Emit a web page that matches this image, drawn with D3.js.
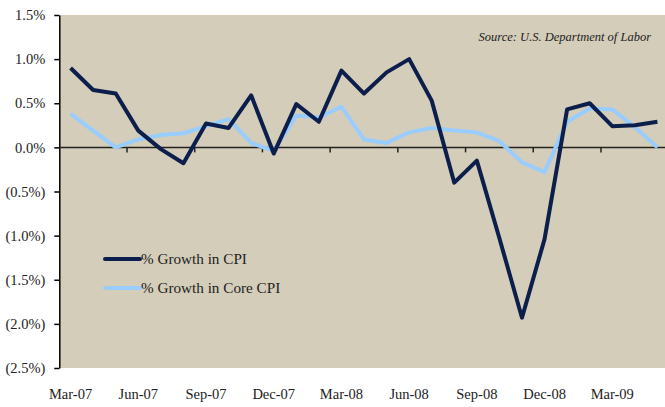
<!DOCTYPE html>
<html>
<head>
<meta charset="utf-8">
<script src="https://cdn.jsdelivr.net/npm/d3@7"></script>
<style>
  body { margin: 0; background: #fff; }
  svg { display: block; font-family: "Liberation Serif", "DejaVu Serif", serif; }
</style>
</head>
<body>
<svg width="665" height="407"></svg>
<script>
// months Mar-07 .. May-09
var months = ["Mar-07","Apr-07","May-07","Jun-07","Jul-07","Aug-07","Sep-07","Oct-07","Nov-07",
              "Dec-07","Jan-08","Feb-08","Mar-08","Apr-08","May-08","Jun-08","Jul-08","Aug-08",
              "Sep-08","Oct-08","Nov-08","Dec-08","Jan-09","Feb-09","Mar-09","Apr-09","May-09"];

var cpi = [0.90, 0.65, 0.61, 0.19, -0.02, -0.18, 0.27, 0.22, 0.59,
           -0.07, 0.49, 0.29, 0.87, 0.61, 0.85, 1.00, 0.53, -0.40,
           -0.15, -1.03, -1.93, -1.04, 0.43, 0.50, 0.24, 0.25, 0.29];

var coreCpi = [0.38, 0.19, 0.00, 0.09, 0.14, 0.16, 0.24, 0.32, 0.05,
               -0.04, 0.36, 0.34, 0.46, 0.09, 0.05, 0.17, 0.22, 0.19,
               0.17, 0.07, -0.17, -0.28, 0.29, 0.44, 0.43, 0.23, 0.00];

var yTicks = [1.5, 1.0, 0.5, 0.0, -0.5, -1.0, -1.5, -2.0, -2.5];

var svg = d3.select("svg");

// (window.top is reserved, so plot edges get their own names)
var plotLeft = 59.3, plotTop = 15, plotBottom = 368;

// plot runs a little past the right edge of the window, like the original
var x = d3.scaleBand()
    .domain(months)
    .range([plotLeft, plotLeft + months.length * 22.57])
    .padding(0);

var y = d3.scaleLinear()
    .domain([-2.5, 1.5])
    .range([plotBottom, plotTop]);

function fmt(v) {
  var s = Math.abs(v).toFixed(1) + "%";
  return v < 0 ? "(" + s + ")" : s;
}

// plot background
svg.append("rect")
    .attr("x", plotLeft)
    .attr("y", plotTop)
    .attr("width", 665 - plotLeft)
    .attr("height", plotBottom - plotTop)
    .attr("fill", "#d4cdb9");

// y axis
var yAxis = svg.append("g")
    .attr("transform", "translate(" + plotLeft + ",0)")
    .call(d3.axisLeft(y).tickValues(yTicks).tickFormat(fmt).tickSize(5).tickSizeOuter(0).tickPadding(9));
yAxis.select(".domain").attr("stroke", "#000").attr("stroke-width", 1.5);
yAxis.selectAll(".tick line").attr("stroke", "#000").attr("stroke-width", 1.5);
yAxis.selectAll(".tick text")
    .attr("fill", "#222")
    .style("font-size", "14.5px")
    .style("font-family", "'Liberation Serif', serif");

// zero line with ticks between every third month
svg.append("line")
    .attr("x1", plotLeft).attr("x2", 665)
    .attr("y1", y(0)).attr("y2", y(0))
    .attr("stroke", "#222").attr("stroke-width", 1.5);

var tickMonths = months.filter(function(d, i) { return i > 0 && i % 3 == 0; });
svg.append("g").selectAll("line")
    .data(tickMonths).enter()
    .append("line")
    .attr("x1", function(d) { return x(d); })
    .attr("x2", function(d) { return x(d); })
    .attr("y1", y(0))
    .attr("y2", y(0) + 5)
    .attr("stroke", "#222")
    .attr("stroke-width", 1.5);

// month labels at the bottom
var labelMonths = months.filter(function(d, i) { return i % 3 == 0; });
svg.append("g").selectAll("text")
    .data(labelMonths).enter()
    .append("text")
    .attr("x", function(d) { return x(d) + x.bandwidth() / 2; })
    .attr("y", 399)
    .attr("text-anchor", "middle")
    .attr("fill", "#222")
    .style("font-size", "14.5px")
    .text(function(d) { return d; });

// lines
var line = d3.line()
    .x(function(d, i) { return x(months[i]) + x.bandwidth() / 2; })
    .y(function(d) { return y(d); });

svg.append("path")
    .datum(coreCpi)
    .attr("fill", "none")
    .attr("stroke", "#99ccff")
    .attr("stroke-width", 4)
    .attr("stroke-linejoin", "round")
    .attr("d", line);

svg.append("path")
    .datum(cpi)
    .attr("fill", "none")
    .attr("stroke", "#0c1e4b")
    .attr("stroke-width", 4)
    .attr("stroke-linejoin", "round")
    .attr("d", line);

// source note
svg.append("text")
    .attr("x", 651)
    .attr("y", 41)
    .attr("text-anchor", "end")
    .attr("fill", "#222")
    .style("font-size", "12.5px")
    .style("font-style", "italic")
    .text("Source: U.S. Department of Labor");

// legend
var legendItems = [
  { name: "% Growth in CPI", color: "#0c1e4b" },
  { name: "% Growth in Core CPI", color: "#99ccff" }
];
var legend = svg.append("g").selectAll("g")
    .data(legendItems).enter()
    .append("g")
    .attr("transform", function(d, i) { return "translate(105," + (259 + i * 29) + ")"; });
legend.append("line")
    .attr("x1", 0).attr("x2", 35)
    .attr("stroke", function(d) { return d.color; })
    .attr("stroke-width", 4)
    .attr("stroke-linecap", "round");
legend.append("text")
    .attr("x", 36)
    .attr("y", 5)
    .attr("fill", "#222")
    .style("font-size", "15.2px")
    .text(function(d) { return d.name; });
</script>
</body>
</html>
